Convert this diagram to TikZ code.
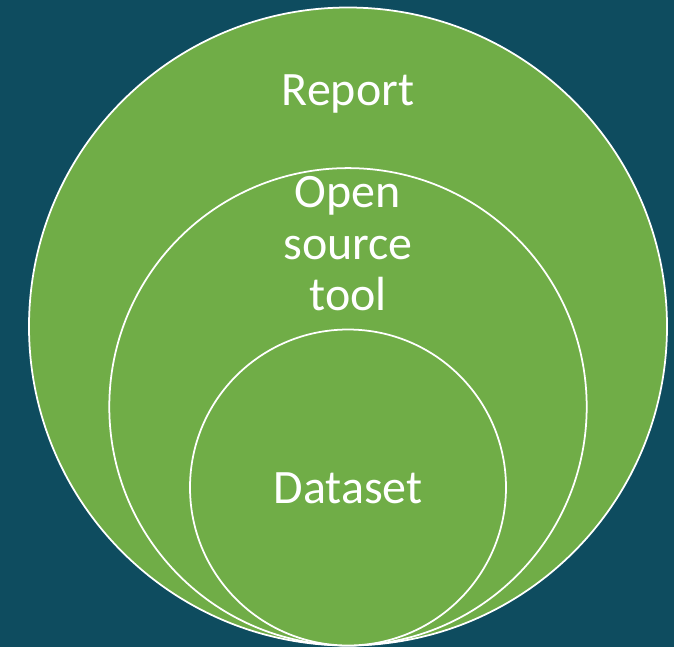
\documentclass[tikz,border=0pt]{standalone}
\usepackage{fontspec}
\setmainfont{Carlito}
\usepackage{xcolor}
\definecolor{slidebg}{HTML}{0E4C5F}
\definecolor{ringgreen}{HTML}{70AD47}
\usetikzlibrary{positioning}

\begin{document}
\begin{tikzpicture}[x=0.02cm,y=-0.02cm]
	\tikzstyle{ring}=[circle,draw=white,fill=ringgreen,line width=1pt,inner sep=0pt]
	\tikzstyle{annot}=[text=white,font=\fontsize{27.3}{29.3}\selectfont,align=center,inner sep=0pt]

	% Background of the slide
	\fill[slidebg] (0,0) rectangle (674,647);
	\useasboundingbox (0,0) rectangle (674,647);

	% Draw the rings, all touching at the bottom
	\foreach \name / \y / \r in {report/326.5/319, tool/406.8/238.7, data/487.5/158}
	\node[ring, minimum size=2*\r*0.02cm] (\name) at (348,\y) {};

	% Label the rings
	\node[annot, anchor=base] (report-txt) at (348,105) {Report};
	\node[annot] (tool-txt) at (348,244) {Open\\source\\tool};
	\node[annot, anchor=base] (data-txt) at (348,503) {Dataset};
\end{tikzpicture}
\end{document}
